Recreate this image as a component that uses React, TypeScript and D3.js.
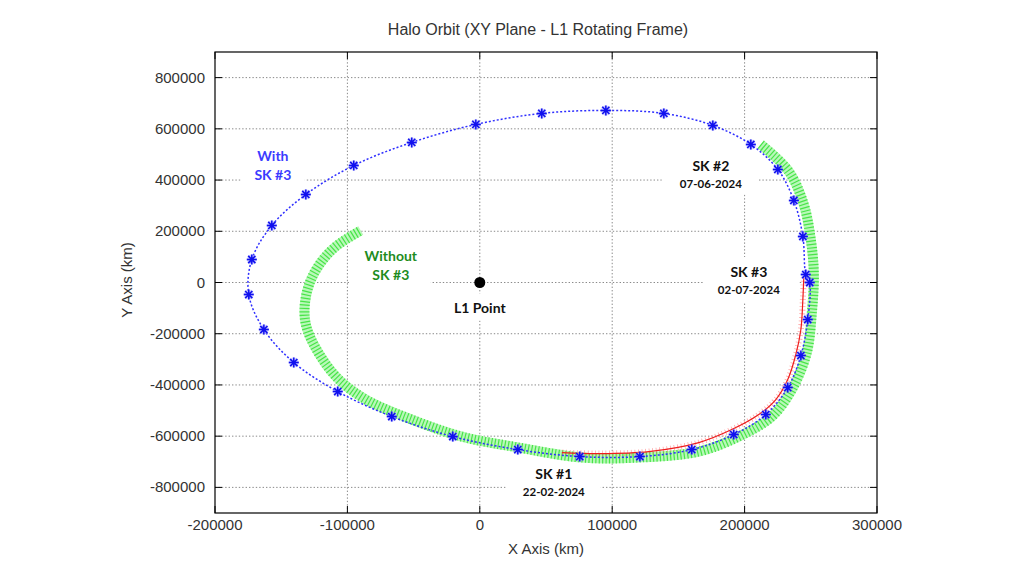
import React from "react";
import * as d3 from "d3";

// ---------- data ----------
const X_TICKS = [-200000, -100000, 0, 100000, 200000, 300000];
const Y_TICKS = [-800000, -600000, -400000, -200000, 0, 200000, 400000, 600000, 800000];

// "With SK #3" trajectory (blue, marker samples)
const withSK3X = [246200, 244000, 237200, 225100, 204700, 176000, 139000, 95200, 46800, -3000, -51400, -95200, -131400, -157100, -172200, -174500, -163100, -140500, -107300, -66500, -20400, 28700, 75500, 120900, 160100, 191800, 216000, 232600, 242500, 247700, 249200];
const withSK3Y = [31200, 179700, 320300, 441400, 539000, 613300, 660200, 671900, 660200, 617200, 546900, 457000, 343700, 222600, 89800, -46900, -183600, -312500, -425800, -523400, -601500, -652300, -679700, -679700, -652300, -593700, -515600, -410200, -285200, -144500, 0];

// "Without SK #3" trajectory (green)
const withoutSK3X = [212200, 233400, 244700, 250000, 252300, 250800, 247000, 235700, 220600, 195600, 165400, 120100, 77000, 29500, -13600, -51400, -86100, -108000, -124600, -131400, -132200, -128400, -120100, -108800, -89900];
const withoutSK3Y = [539000, 433600, 304700, 168000, 31200, -117200, -273400, -418000, -523400, -601500, -660100, -683500, -683500, -644500, -601500, -535100, -457000, -371100, -250000, -164100, -85900, 0, 78100, 140600, 203100];

// third track (red)
const trackX = [244700, 244000, 242500, 238700, 232600, 223600, 210700, 190300, 165400, 127700, 89900, 62000];
const trackY = [19500, -66400, -183600, -281200, -378900, -457000, -515600, -574200, -625000, -660100, -667900, -664000];

const L1 = [0, 0];

type Ann = { lines: string[]; cx: number; cy: number; color: string; box: [number, number, number, number] };
const annotations: Ann[] = [
  { lines: ["With", "SK #3"], cx: -156300, cy: 453000, color: "#3b3bff", box: [-32, -27, 64, 52] },
  { lines: ["Without", "SK #3"], cx: -67200, cy: 64400, color: "#1e8c1e", box: [-40, -23, 80, 47] },
  { lines: ["SK #2", "07-06-2024"], cx: 174500, cy: 418000, color: "#111", box: [-49, -39, 97, 58] },
  { lines: ["SK #3", "02-07-2024"], cx: 203200, cy: 5900, color: "#111", box: [-45, -24, 95, 46] },
  { lines: ["SK #1", "22-02-2024"], cx: 55900, cy: -783000, color: "#111", box: [-48, -21, 95, 43] },
];

const GP_FONT = "'Liberation Sans', Arial, sans-serif";
const ANN_FONT = "Lato, 'Open Sans', sans-serif";

export default function App() {
  const W = 1024, H = 576;
  const left = 215, right = 877, top = 52, bottom = 513;
  const x = d3.scaleLinear().domain([-200000, 300000]).range([left, right]);
  const y = d3.scaleLinear().domain([-900000, 900000]).range([bottom, top]);

  const blueClosed = d3.line<number>().x((_, i) => x(withSK3X[i])).y((_, i) => y(withSK3Y[i])).curve(d3.curveCatmullRomClosed);
  const openLine = (xs: number[], ys: number[]) =>
    d3.line<number>().x((_, i) => x(xs[i])).y((_, i) => y(ys[i])).curve(d3.curveCatmullRom)(xs as any) || "";

  const bluePath = blueClosed(withSK3X as any) || "";
  const greenPath = openLine(withoutSK3X, withoutSK3Y);
  const redPath = openLine(trackX, trackY);

  const star = (cx: number, cy: number) => {
    const r = 5;
    const d = r * 0.72;
    return `M${cx - r},${cy}L${cx + r},${cy}M${cx},${cy - r}L${cx},${cy + r}M${cx - d},${cy - d}L${cx + d},${cy + d}M${cx - d},${cy + d}L${cx + d},${cy - d}`;
  };

  const tickLen = 7;

  return (
    <svg width={W} height={H} style={{ position: "absolute", left: 0, top: 0, background: "#fff" }}>
      <rect x={0} y={0} width={W} height={H} fill="#fff" />
      {/* title */}
      <text x={538} y={35} textAnchor="middle" fontFamily={GP_FONT} fontSize={16} fill="#333">
        Halo Orbit (XY Plane - L1  Rotating Frame)
      </text>
      {/* grid */}
      <g stroke="#8a8a8a" strokeWidth={1} strokeDasharray="1.4 2">
        {X_TICKS.filter((t) => t > -200000 && t < 300000).map((t) => (
          <line key={"gx" + t} x1={x(t)} x2={x(t)} y1={top} y2={bottom} />
        ))}
        {Y_TICKS.map((t) => (
          <line key={"gy" + t} x1={left} x2={right} y1={y(t)} y2={y(t)} />
        ))}
      </g>
      {/* label boxes hiding the grid */}
      {annotations.map((a, i) => (
        <rect key={"b" + i} x={x(a.cx) + a.box[0]} y={y(a.cy) + a.box[1]} width={a.box[2]} height={a.box[3]} fill="#fff" />
      ))}
      <rect x={x(L1[0]) - 36} y={y(L1[1]) + 11} width={72} height={27} fill="#fff" />
      {/* ticks */}
      <g stroke="#000" strokeWidth={1}>
        {X_TICKS.map((t) => (
          <g key={"tx" + t}>
            <line x1={x(t)} x2={x(t)} y1={bottom} y2={bottom - tickLen} />
            <line x1={x(t)} x2={x(t)} y1={top} y2={top + tickLen} />
          </g>
        ))}
        {Y_TICKS.map((t) => (
          <g key={"ty" + t}>
            <line x1={left} x2={left + tickLen} y1={y(t)} y2={y(t)} />
            <line x1={right} x2={right - tickLen} y1={y(t)} y2={y(t)} />
          </g>
        ))}
      </g>
      {/* tick labels */}
      <g fontFamily={GP_FONT} fontSize={15} fill="#333">
        {X_TICKS.map((t) => (
          <text key={"lx" + t} x={x(t)} y={530} textAnchor="middle">{t}</text>
        ))}
        {Y_TICKS.map((t) => (
          <text key={"ly" + t} x={205} y={y(t) + 5} textAnchor="end">{t}</text>
        ))}
      </g>
      <text x={546} y={554} textAnchor="middle" fontFamily={GP_FONT} fontSize={15} fill="#333">X Axis (km)</text>
      <text transform={`translate(132,280) rotate(-90)`} textAnchor="middle" fontFamily={GP_FONT} fontSize={15} fill="#333">Y Axis (km)</text>

      {/* green band */}
      <path d={greenPath} fill="none" stroke="#b8f8b8" strokeWidth={10} />
      <path d={greenPath} fill="none" stroke="#48e448" strokeWidth={10} strokeDasharray="1.2 2.2" />
      {/* red track */}
      <path d={redPath} fill="none" stroke="#ff6a6a" strokeWidth={6} strokeDasharray="0.8 2.8" opacity={0.6} />
      <path d={redPath} fill="none" stroke="#ee1c1c" strokeWidth={1.2} />
      {/* blue */}
      <path d={bluePath} fill="none" stroke="#2f2fff" strokeWidth={1.5} strokeDasharray="2 2" />
      <g>
        {withSK3X.map((v, i) => (
          <g key={"m" + i}>
            <path d={star(x(v), y(withSK3Y[i]))} stroke="#9a9aff" strokeWidth={3} opacity={0.6} />
            <path d={star(x(v), y(withSK3Y[i]))} stroke="#1010ee" strokeWidth={1.5} />
          </g>
        ))}
      </g>
      {/* L1 point */}
      <circle cx={x(L1[0])} cy={y(L1[1])} r={5.5} fill="#000" />
      <text x={x(L1[0])} y={y(L1[1]) + 30} textAnchor="middle" fontFamily={ANN_FONT} fontWeight={700} fontSize={14} fill="#111">L1 Point</text>
      {/* annotations */}
      {annotations.map((a, i) => {
        const isSK = a.lines[1].match(/\d{2}-\d{2}-\d{4}/);
        return (
          <g key={"a" + i} fontFamily={ANN_FONT} fontWeight={700} fill={a.color} textAnchor="middle">
            <text x={x(a.cx)} y={y(a.cy) - (isSK ? 4 : 5)} fontSize={14}>{a.lines[0]}</text>
            <text x={x(a.cx)} y={y(a.cy) + (isSK ? 13 : 14)} fontSize={isSK ? 11.5 : 14}>{a.lines[1]}</text>
          </g>
        );
      })}
      {/* border */}
      <rect x={left} y={top} width={right - left} height={bottom - top} fill="none" stroke="#000" strokeWidth={1.2} />
    </svg>
  );
}
